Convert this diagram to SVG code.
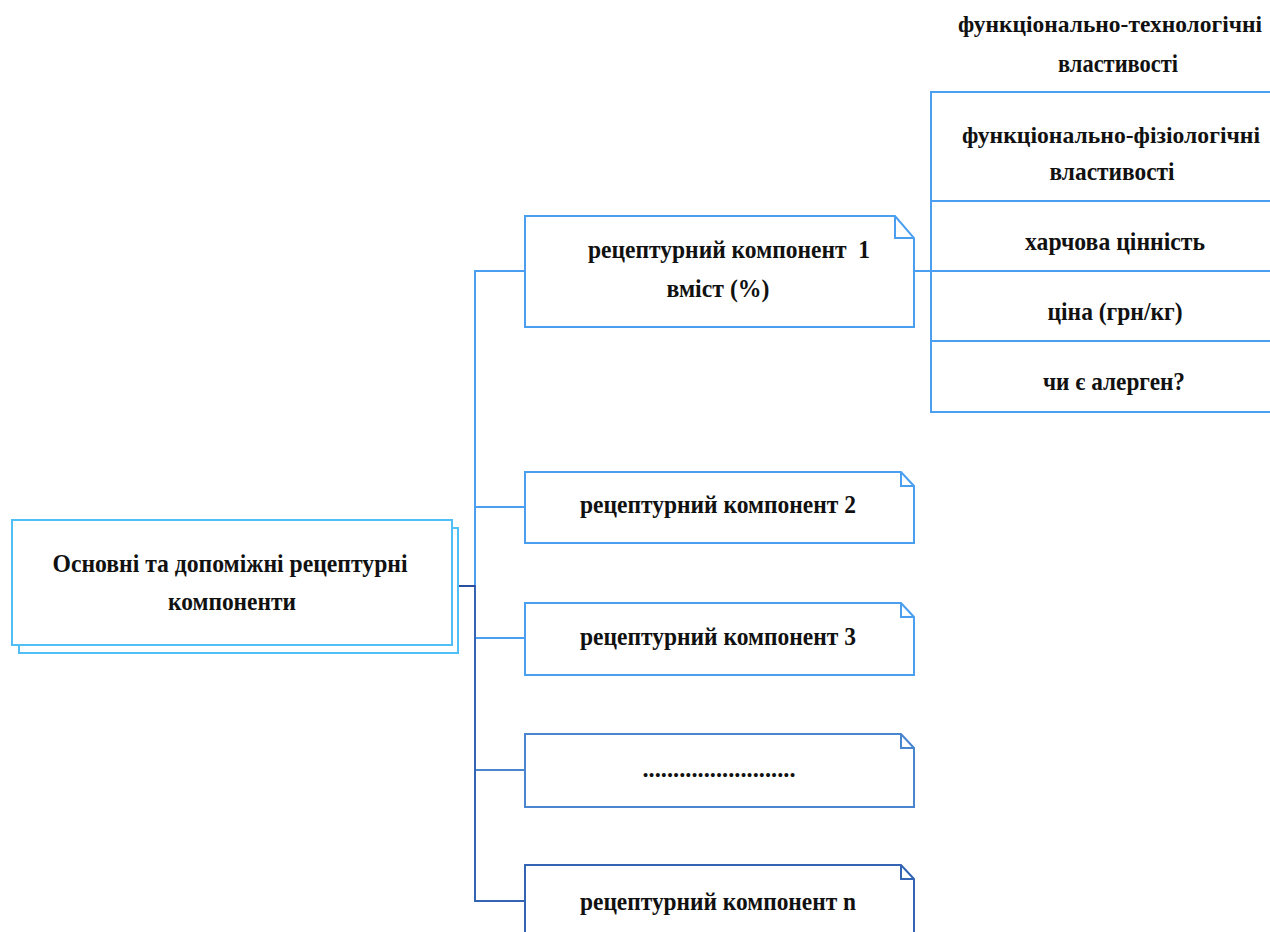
<svg xmlns="http://www.w3.org/2000/svg" width="1270" height="932" viewBox="0 0 1270 932">
<style>
text{font-family:"Liberation Serif","DejaVu Serif",serif;font-weight:bold;font-size:26px;fill:#111;text-anchor:middle}
.sm{font-size:23px}
.box{fill:#fff;stroke-width:2}
.lb{stroke:#4a9ff0}
.mb{stroke:#4a85d0}
.db{stroke:#3465b5}
.sky{stroke:#50bff5}
.conn{fill:none;stroke-width:2}
</style>
<rect width="1270" height="932" fill="#fff"/>
<g id="connectors">
<path class="conn lb" d="M458,586 H475 V271 H525"/>
<path class="conn lb" d="M458,586 H475 V507 H525"/>
<path class="conn lb" d="M458,586 H475 V638 H525"/>
<path class="conn mb" d="M458,586 H475 V770 H525"/>
<path class="conn db" d="M458,586 H475 V901 H525"/>
<path class="conn" stroke="#2b4f9e" d="M458,586 H475"/>
<path class="conn lb" d="M914,271 H931"/>
</g>
<g id="root">
<rect class="box sky" x="19" y="528" width="439" height="125"/>
<rect class="box sky" x="12" y="520" width="440" height="125"/>
<text x="230" y="572" textLength="355" lengthAdjust="spacingAndGlyphs">Основні та допоміжні рецептурні</text>
<text x="232" y="610" textLength="128" lengthAdjust="spacingAndGlyphs">компоненти</text>
</g>
<g id="comp1">
<path class="box lb" d="M525,216 H895 L914,238 V327 H525 Z"/>
<path class="conn lb" d="M895,216 V238 H914"/>
<text x="729" y="258" textLength="282" lengthAdjust="spacingAndGlyphs">рецептурний компонент&#160; 1</text>
<text x="718" y="297" textLength="103" lengthAdjust="spacingAndGlyphs">вміст (%)</text>
</g>
<g id="comp2">
<path class="box lb" d="M525,472 H901 L914,486 V543 H525 Z"/>
<path class="conn lb" d="M901,472 V486 H914"/>
<text x="718" y="513" textLength="276" lengthAdjust="spacingAndGlyphs">рецептурний компонент 2</text>
</g>
<g id="comp3">
<path class="box lb" d="M525,603 H901 L914,617 V675 H525 Z"/>
<path class="conn lb" d="M901,603 V617 H914"/>
<text x="718" y="645" textLength="276" lengthAdjust="spacingAndGlyphs">рецептурний компонент 3</text>
</g>
<g id="comp4">
<path class="box mb" d="M525,734 H901 L914,748 V807 H525 Z"/>
<path class="conn mb" d="M901,734 V748 H914"/>
<text x="719" y="777" textLength="153" lengthAdjust="spacingAndGlyphs">.........................</text>
</g>
<g id="compn">
<path class="box db" d="M525,865 H901 L914,879 V945 H525 Z"/>
<path class="conn db" d="M901,865 V879 H914"/>
<text x="718" y="910" textLength="276" lengthAdjust="spacingAndGlyphs">рецептурний компонент n</text>
</g>
<g id="properties">
<text class="sm" x="1110" y="32" textLength="304" lengthAdjust="spacingAndGlyphs">функціонально-технологічні</text>
<text x="1118" y="72" textLength="120" lengthAdjust="spacingAndGlyphs">властивості</text>
<rect class="box lb" x="931" y="92" width="345" height="320"/>
<path class="conn lb" d="M931,201 H1276 M931,271 H1276 M931,341 H1276"/>
<text class="sm" x="1111" y="143" textLength="298" lengthAdjust="spacingAndGlyphs">функціонально-фізіологічні</text>
<text x="1112" y="180" textLength="125" lengthAdjust="spacingAndGlyphs">властивості</text>
<text x="1115" y="250" textLength="180" lengthAdjust="spacingAndGlyphs">харчова цінність</text>
<text x="1115" y="320" textLength="135" lengthAdjust="spacingAndGlyphs">ціна (грн/кг)</text>
<text x="1114" y="390" textLength="142" lengthAdjust="spacingAndGlyphs">чи є алерген?</text>
</g>
</svg>
